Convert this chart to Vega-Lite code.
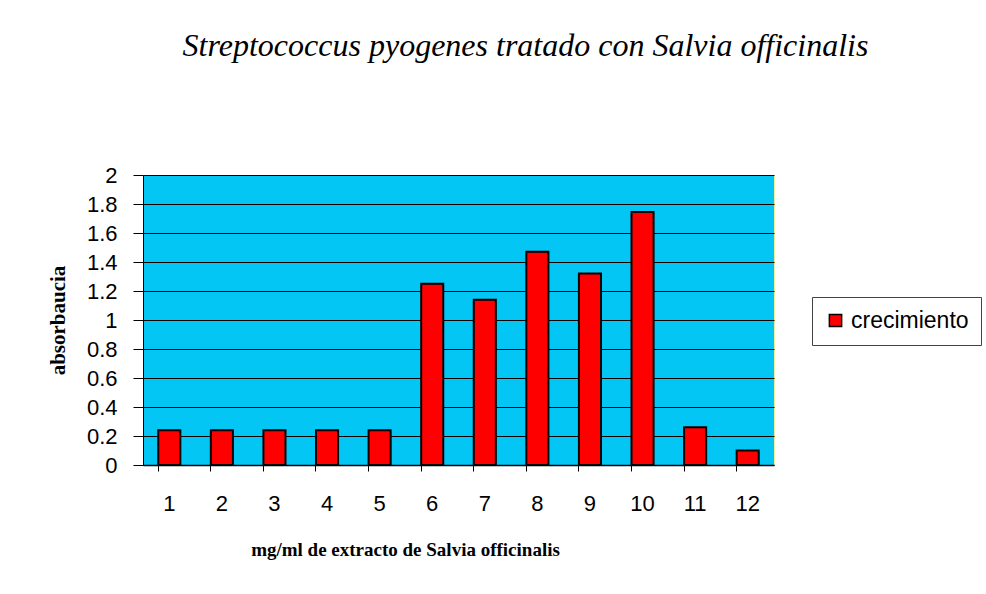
{
  "$schema": "https://vega.github.io/schema/vega-lite/v6.json",
  "autosize": "none",
  "width": 631,
  "height": 290,
  "padding": {"left": 143, "top": 175, "right": 212, "bottom": 129},
  "background": "white",
  "title": {
    "text": "Streptococcus pyogenes tratado con Salvia officinalis",
    "font": "Liberation Serif",
    "fontSize": 32,
    "fontStyle": "italic",
    "fontWeight": "normal",
    "color": "black",
    "anchor": "middle",
    "dx": 67,
    "offset": 101
  },
  "data": {
    "values": [
      {"x": "1", "serie": "crecimiento", "absorbancia": 0.24},
      {"x": "2", "serie": "crecimiento", "absorbancia": 0.24},
      {"x": "3", "serie": "crecimiento", "absorbancia": 0.24},
      {"x": "4", "serie": "crecimiento", "absorbancia": 0.24},
      {"x": "5", "serie": "crecimiento", "absorbancia": 0.24},
      {"x": "6", "serie": "crecimiento", "absorbancia": 1.25},
      {"x": "7", "serie": "crecimiento", "absorbancia": 1.14},
      {"x": "8", "serie": "crecimiento", "absorbancia": 1.47},
      {"x": "9", "serie": "crecimiento", "absorbancia": 1.32},
      {"x": "10", "serie": "crecimiento", "absorbancia": 1.745},
      {"x": "11", "serie": "crecimiento", "absorbancia": 0.26},
      {"x": "12", "serie": "crecimiento", "absorbancia": 0.1}
    ]
  },
  "mark": {"type": "bar", "stroke": "black", "strokeWidth": 2},
  "encoding": {
    "x": {
      "field": "x",
      "type": "ordinal",
      "sort": null,
      "scale": {"paddingInner": 0.58, "paddingOuter": 0.29},
      "axis": {
        "title": "mg/ml de extracto de Salvia officinalis",
        "titleFont": "Liberation Serif",
        "titleFontSize": 19,
        "titleFontWeight": "bold",
        "titleColor": "black",
        "titlePadding": 26,
        "titleX": 262,
        "titleAlign": "center",
        "labelAngle": 0,
        "labelFont": "Liberation Sans",
        "labelFontSize": 22,
        "labelColor": "black",
        "labelPadding": 22,
        "bandPosition": 0,
        "tickSize": 6,
        "tickColor": "black",
        "domainColor": "black",
        "domainWidth": 1.5
      }
    },
    "y": {
      "field": "absorbancia",
      "type": "quantitative",
      "scale": {"domain": [0, 2], "nice": false},
      "axis": {
        "title": "absorbaucia",
        "titleFont": "Liberation Serif",
        "titleFontSize": 21,
        "titleFontWeight": "bold",
        "titleColor": "black",
        "titlePadding": 18,
        "values": [0, 0.2, 0.4, 0.6, 0.8, 1, 1.2, 1.4, 1.6, 1.8, 2],
        "labelExpr": "toString(datum.value)",
        "labelFont": "Liberation Sans",
        "labelFontSize": 22,
        "labelColor": "black",
        "labelPadding": 16,
        "tickSize": 10,
        "tickColor": "black",
        "domainColor": "black",
        "grid": true,
        "gridColor": "black",
        "gridWidth": 1.2
      }
    },
    "color": {
      "field": "serie",
      "type": "nominal",
      "scale": {"range": ["#FF0000"]},
      "legend": {
        "title": null,
        "orient": "none",
        "legendX": 669,
        "legendY": 122,
        "strokeColor": "#444444",
        "padding": 12,
        "symbolType": "square",
        "symbolSize": 150,
        "symbolStrokeColor": "black",
        "symbolStrokeWidth": 1.5,
        "labelFont": "Liberation Sans",
        "labelFontSize": 23,
        "labelColor": "black",
        "labelOffset": 4
      }
    }
  },
  "config": {
    "view": {"fill": "#04C6F4", "stroke": "#E8F0A0", "strokeWidth": 1}
  }
}
